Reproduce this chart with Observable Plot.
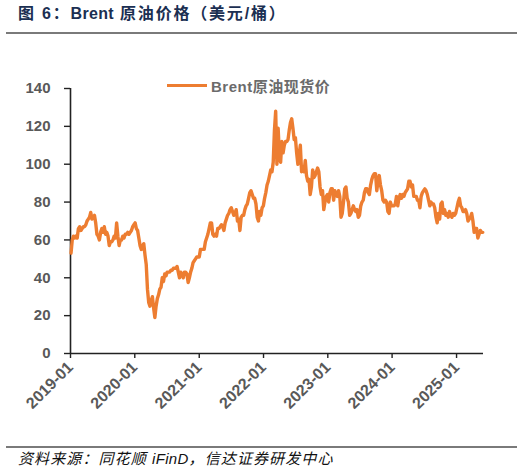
<!DOCTYPE html>
<html>
<head>
<meta charset="utf-8">
<script src="https://cdn.jsdelivr.net/npm/d3@7"></script>
<script src="https://cdn.jsdelivr.net/npm/@observablehq/plot@0.6"></script>
<style>
  body { margin: 0; background: #fff; }
  #wrap { position: relative; width: 527px; height: 475px; font-family: "Liberation Sans", Arial, "Noto Sans CJK SC", sans-serif; }
  #title { margin: 0 10px 0 6px; padding-left: 12px; height: 32px; line-height: 28px; border-bottom: 2px solid #7a7a7a;
           font-size: 16px; font-weight: bold; color: #1b2f52; letter-spacing: 1.8px; }
  #legend { position: absolute; top: 75px; left: 167px; font-size: 15px; font-weight: bold; color: #6b6b6b;
            display: flex; align-items: center; letter-spacing: 0.5px; }
  #legend .swatch { width: 40px; height: 3px; background: #ed7d31; margin-right: 4px; }
  #footer { margin: 0 10px 0 6px; padding-left: 12px; border-top: 2px solid #7a7a7a; font-size: 15px; line-height: 22px;
            font-style: italic; color: #111; letter-spacing: 1.1px; }
  .latin { letter-spacing: 0.3px; }
</style>
</head>
<body>
<div id="wrap">
  <div id="title">图 6：<span class="latin">Brent</span> 原油价格（美元/桶）</div>
  <div id="plot"></div>
  <div id="legend"><span class="swatch"></span><span>Brent原油现货价</span></div>
  <div id="footer">资料来源：同花顺 <span class="latin">iFinD</span>，信达证券研发中心</div>
</div>
<script>
// weekly (Friday) Brent spot
const firstWeek = "2019-01-04";
const prices2019 = [53, 60, 62, 61, 62, 61, 66, 67, 65, 66, 67, 67, 68, 70, 71, 72, 74.5,
  71, 72, 73, 69, 63, 62, 60, 64, 66, 64, 67, 63, 64, 62, 57, 59, 59, 60, 62, 61, 69, 62,
  57, 60, 60, 62, 61, 63, 63, 64, 63, 64, 65, 67, 68];
const prices2020 = [69, 66, 65, 61, 57, 55, 57, 58, 52, 47, 34, 27, 25, 28, 30, 24, 19,
  25, 29, 31, 34, 35, 40, 38, 42, 41, 43, 43, 43, 44, 44, 45, 45, 45, 46, 43, 40, 43, 42,
  40, 43, 43, 42, 37.5, 40, 43, 45, 48, 49, 50, 51, 51];
const prices2021 = [51, 55, 55, 55, 55, 59, 61, 63, 66, 69, 69, 63, 62, 63, 62, 66, 66, 67,
  68, 67, 65, 69, 71, 73, 74, 76, 77, 75, 73, 74, 76, 70, 71, 65, 72, 73, 73, 76, 78,
  79, 82, 85, 86, 84, 82, 82, 79, 72, 70, 75, 73, 77, 78];
const prices2022 = [82, 85, 89, 91, 94, 97, 96, 101, 118, 128, 100, 119, 105, 101, 112, 106,
  110, 112, 112, 113, 118, 122, 124, 119, 113, 114, 106, 100, 105, 110, 96, 98, 96, 102,
  94, 91, 92, 84, 88, 97, 93, 94, 96, 98, 96, 88, 84, 86, 76, 80, 83, 84];
const prices2023 = [80, 85, 87, 87, 81, 86, 84, 83, 86, 83, 72, 74, 80, 87, 88, 82, 80,
  73, 74, 76, 78, 76, 75, 76, 72, 73, 78, 80, 81, 85, 87, 87, 85, 84, 89, 92, 94, 95, 95,
  86, 91, 94, 89, 86, 81, 80, 81, 80, 75, 74, 80, 78];
const prices2024 = [78, 78, 79, 83, 78, 82, 84, 82, 84, 83, 85, 86, 87, 91, 91, 88, 89,
  83, 83, 83, 81, 81, 77, 83, 85, 86, 87, 86, 84, 81, 78, 80, 79, 79, 77, 72, 69, 74, 71,
  79, 80, 74, 76, 73, 74, 72, 75, 73, 72, 74, 73, 74];
const prices2025 = [77, 80, 82, 78, 77, 75, 75, 76, 74, 70, 71, 72, 74, 70, 64, 66, 66,
  61, 63, 65, 64, 64];

const yTicks = [0, 20, 40, 60, 80, 100, 120, 140];
const xTicks = ["2019-01", "2020-01", "2021-01", "2022-01", "2023-01", "2024-01", "2025-01"];
const xDomain = ["2019-01-01", "2025-06-03"];

const prices = [...prices2019, ...prices2020, ...prices2021, ...prices2022,
  ...prices2023, ...prices2024, ...prices2025];
const start = d3.utcParse("%Y-%m-%d")(firstWeek);
const data = prices.map((p, i) => ({date: d3.utcDay.offset(start, 7 * i), price: p}));
const tickDates = xTicks.map(d3.utcParse("%Y-%m"));
const domain = xDomain.map(d3.utcParse("%Y-%m-%d"));

const plot = Plot.plot({
  width: 527,
  height: 412,
  marginLeft: 70,
  marginRight: 44,
  marginTop: 54,
  marginBottom: 93,
  style: {
    fontFamily: "Liberation Sans, Arial, sans-serif",
    background: "#fff",
    overflow: "visible"
  },
  x: {type: "utc", domain},
  y: {domain: [0, 140]},
  marks: [
    Plot.axisY(yTicks, {
      tickSize: 6, tickPadding: 14, fontSize: 15, fontWeight: "bold",
      fill: "#595959", stroke: "#222", strokeWidth: 1.4, label: null
    }),
    Plot.axisX(tickDates, {
      tickSize: 5, tickPadding: 6, tickRotate: -45, tickFormat: d3.utcFormat("%Y-%m"),
      fontSize: 16, fontWeight: "bold", fill: "#595959", stroke: "#222", strokeWidth: 1.4, label: null
    }),
    Plot.ruleX([domain[0]], {y1: 0, y2: 140, stroke: "#222", strokeWidth: 1.6}),
    Plot.ruleY([0], {stroke: "#222", strokeWidth: 1.6}),
    Plot.line(data, {
      x: "date", y: "price", stroke: "#ed7d31", strokeWidth: 3.4,
      strokeLinejoin: "round", strokeLinecap: "round"
    })
  ]
});

document.getElementById("plot").appendChild(plot);
</script>
</body>
</html>
